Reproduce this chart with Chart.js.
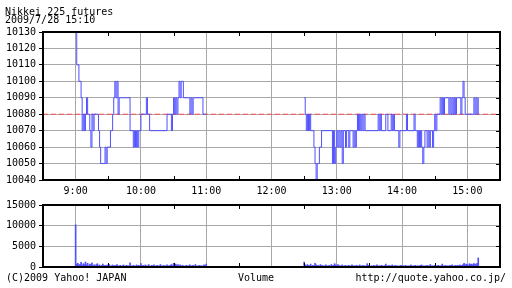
<!DOCTYPE html>
<html>
<head>
<meta charset="utf-8">
<script src="https://cdn.jsdelivr.net/npm/chart.js@4.4.0/dist/chart.umd.min.js"></script>
<style>
  html, body { margin: 0; padding: 0; background: #fff; }
  #wrap { position: relative; width: 512px; height: 288px; }
  #wrap canvas { position: absolute; left: 0; top: 0; }
</style>
</head>
<body>
<div id="wrap">
  <canvas id="priceChart" width="512" height="288"></canvas>
  <canvas id="volumeChart" width="512" height="288"></canvas>
</div>
<script>
const FONT = "'DejaVu Sans Mono', monospace";
const BLUE = '#5050ff';
const GRID = '#a8a8a8';

// x values are minutes after 9:00
const hourTicks = [0, 60, 120, 180, 240, 300, 360];
const halfHourTicks = [-30, 30, 90, 150, 210, 270, 330, 390];
const priceTicks = [10040, 10050, 10060, 10070, 10080, 10090, 10100, 10110, 10120, 10130];
const volumeTicks = [0, 5000, 10000, 15000];
const prevClose = 10080;

// morning session price changes (minute, price)
const amTimes = [0, 1, 3, 5, 6, 7, 8, 9, 10, 11,
  13, 14, 15, 16, 17, 21, 22, 23, 27, 28,
  29, 32, 34, 35, 36, 37, 38, 39, 40, 50,
  53, 54, 55, 56, 57, 58, 60, 65, 66, 68,
  84, 88, 89, 90, 91, 92, 93, 94, 95, 96,
  97, 99, 105, 106, 107, 108, 117, 120];
const amPrices = [10130, 10110, 10100, 10090, 10070, 10080, 10070, 10080, 10090, 10080,
  10070, 10060, 10080, 10070, 10080, 10070, 10060, 10050, 10060, 10050,
  10060, 10070, 10080, 10090, 10100, 10090, 10100, 10080, 10090, 10070,
  10060, 10070, 10060, 10070, 10060, 10070, 10080, 10090, 10080, 10070,
  10080, 10070, 10080, 10090, 10080, 10090, 10080, 10090, 10100, 10090,
  10100, 10090, 10080, 10090, 10080, 10090, 10080, 10080];

// afternoon session price changes (minute, price)
const pmTimes = [210, 211, 212, 213, 214, 215, 216, 219, 220, 221,
  222, 224, 226, 236, 237, 238, 239, 240, 241, 242,
  243, 244, 245, 246, 248, 249, 251, 252, 255, 256,
  257, 258, 259, 260, 261, 262, 263, 264, 265, 266,
  278, 279, 280, 281, 285, 287, 290, 291, 292, 293,
  297, 298, 304, 305, 311, 312, 314, 315, 316, 317,
  318, 319, 320, 321, 323, 324, 325, 326, 328, 329,
  330, 331, 332, 335, 336, 337, 338, 339, 343, 344,
  345, 346, 347, 348, 349, 350, 354, 355, 356, 357,
  358, 366, 367, 368, 369, 370];
const pmPrices = [10090, 10080, 10070, 10080, 10070, 10080, 10070, 10060, 10050, 10040,
  10050, 10060, 10070, 10050, 10070, 10050, 10060, 10070, 10060, 10070,
  10060, 10070, 10050, 10070, 10060, 10070, 10060, 10070, 10060, 10070,
  10060, 10070, 10080, 10070, 10080, 10070, 10080, 10070, 10080, 10070,
  10080, 10070, 10080, 10070, 10080, 10070, 10080, 10070, 10080, 10070,
  10060, 10070, 10080, 10070, 10080, 10070, 10060, 10070, 10060, 10070,
  10060, 10050, 10060, 10070, 10060, 10070, 10060, 10070, 10060, 10070,
  10080, 10070, 10080, 10090, 10080, 10090, 10080, 10090, 10080, 10090,
  10080, 10090, 10080, 10090, 10080, 10090, 10080, 10090, 10100, 10090,
  10080, 10090, 10080, 10090, 10080, 10090];

// volume per minute, 9:00-11:00 and 12:30-15:10
const amVolume = [10200,
  700, 900, 500, 600, 1100, 400, 800, 600, 1200, 500,
  900, 300, 700, 600, 1000, 400, 500, 300, 600, 800,
  300, 500, 200, 400, 700, 300, 400, 200, 500, 300,
  600, 200, 300, 500, 200, 400, 300, 600, 200, 300,
  400, 200, 300, 500, 200, 300, 400, 200, 300, 1000,
  300, 200, 400, 300, 200, 500, 300, 400, 200, 800,
  300, 400, 200, 500, 300, 200, 600, 300, 200, 400,
  300, 500, 200, 300, 400, 200, 300, 600, 200, 300,
  400, 200, 300, 500, 200, 300, 400, 600, 300, 900,
  500, 700, 400, 600, 300, 500, 200, 400, 300, 200,
  300, 400, 200, 300, 500, 200, 300, 400, 200, 600,
  300, 200, 300, 400, 200, 300, 200, 500, 300, 700];
const pmVolume = [1200,
  500, 300, 600, 400, 300, 700, 200, 400, 300, 900,
  500, 300, 400, 200, 600, 300, 400, 200, 300, 500,
  200, 300, 400, 200, 600, 300, 400, 800, 500, 300,
  600, 400, 200, 300, 500, 200, 300, 400, 200, 300,
  400, 200, 300, 500, 200, 300, 200, 400, 300, 200,
  500, 300, 200, 400, 300, 200, 300, 800, 400, 300,
  200, 300, 200, 400, 200, 300, 500, 200, 300, 200,
  400, 300, 200, 300, 700, 200, 300, 400, 200, 300,
  500, 200, 300, 400, 200, 300, 200, 300, 400, 200,
  300, 200, 400, 300, 200, 300, 200, 500, 300, 200,
  300, 400, 200, 300, 200, 300, 400, 500, 200, 300,
  200, 300, 400, 200, 300, 600, 200, 300, 200, 400,
  300, 200, 400, 300, 200, 300, 700, 200, 300, 400,
  200, 300, 200, 400, 300, 500, 200, 300, 400, 300,
  400, 300, 500, 300, 400, 600, 900, 500, 700, 600,
  400, 800, 600, 700, 500, 800, 700, 600, 900, 2200];
const pmStart = 210;

const pricePoints = amTimes.map((t, i) => ({ x: t, y: amPrices[i] }))
  .concat([{ x: 165, y: null }])
  .concat(pmTimes.map((t, i) => ({ x: t, y: pmPrices[i] })));
const volumePoints = amVolume.map((v, i) => ({ x: i, y: v }))
  .concat(pmVolume.map((v, i) => ({ x: pmStart + i, y: v })));

// frame, inner half-hour ticks and right side ticks
const framePlugin = {
  id: 'frame',
  afterDatasetsDraw(chart) {
    const { ctx, chartArea: a, scales } = chart;
    ctx.save();
    ctx.strokeStyle = '#000';
    ctx.lineWidth = 1;
    ctx.beginPath();
    halfHourTicks.forEach(t => {
      const x = Math.round(scales.x.getPixelForValue(t)) + 0.5;
      ctx.moveTo(x, a.top); ctx.lineTo(x, a.top + 4);
      ctx.moveTo(x, a.bottom); ctx.lineTo(x, a.bottom - 4);
    });
    scales.y.ticks.forEach(tk => {
      const y = Math.round(scales.y.getPixelForValue(tk.value)) + 0.5;
      ctx.moveTo(a.right, y); ctx.lineTo(a.right - 4, y);
    });
    ctx.stroke();
    ctx.lineWidth = 2;
    ctx.strokeRect(a.left, a.top, a.right - a.left, a.bottom - a.top);
    ctx.restore();
  }
};

const textPlugin = {
  id: 'texts',
  afterDraw(chart, args, opts) {
    const ctx = chart.ctx;
    ctx.save();
    ctx.font = '10px ' + FONT;
    ctx.fillStyle = '#000';
    ctx.textBaseline = 'alphabetic';
    (opts.items || []).forEach(it => {
      ctx.textAlign = it.align || 'left';
      ctx.fillText(it.text, it.x, it.y);
    });
    ctx.restore();
  }
};

const tickFont = { family: FONT, size: 10 };

new Chart(document.getElementById('priceChart'), {
  type: 'line',
  data: {
    datasets: [
      {
        data: pricePoints,
        borderColor: BLUE,
        borderWidth: 1,
        stepped: true,
        pointRadius: 0,
        fill: false,
        order: 1,
        clip: 2
      },
      {
        data: [{ x: -30, y: prevClose }, { x: 390, y: prevClose }],
        borderColor: '#ff5050',
        borderWidth: 1,
        borderDash: [5, 3],
        pointRadius: 0,
        fill: false,
        order: 2
      }
    ]
  },
  options: {
    responsive: false,
    animation: false,
    events: [],
    layout: { padding: { top: 32, right: 12, bottom: 88, left: 0 } },
    plugins: {
      legend: { display: false },
      tooltip: { enabled: false },
      texts: {
        items: [
          { text: 'Nikkei 225 futures', x: 5, y: 15 },
          { text: '2009/7/28 15:10', x: 5, y: 23 }
        ]
      }
    },
    scales: {
      x: {
        type: 'linear',
        min: -30,
        max: 390,
        afterBuildTicks: s => { s.ticks = hourTicks.map(v => ({ value: v })); },
        afterFit: s => { s.height = 20; },
        grid: { color: GRID, drawTicks: false },
        border: { display: false },
        ticks: {
          padding: 5,
          color: '#000',
          font: tickFont,
          maxRotation: 0,
          autoSkip: false,
          callback: v => (9 + v / 60) + ':00'
        }
      },
      y: {
        min: 10040,
        max: 10130,
        afterBuildTicks: s => { s.ticks = priceTicks.map(v => ({ value: v })); },
        afterFit: s => { s.width = 43; },
        grid: { color: GRID, tickColor: '#000', tickLength: 4 },
        border: { display: false },
        ticks: { padding: 3, color: '#000', font: tickFont, callback: v => String(v) }
      }
    }
  },
  plugins: [framePlugin, textPlugin]
});

new Chart(document.getElementById('volumeChart'), {
  type: 'bar',
  data: {
    datasets: [{
      data: volumePoints,
      backgroundColor: BLUE,
      borderWidth: 0,
      barThickness: 1
    }]
  },
  options: {
    responsive: false,
    animation: false,
    events: [],
    layout: { padding: { top: 205, right: 12, bottom: 21, left: 0 } },
    plugins: {
      legend: { display: false },
      tooltip: { enabled: false },
      texts: {
        items: [
          { text: '(C)2009 Yahoo! JAPAN', x: 6, y: 281 },
          { text: 'Volume', x: 256, y: 281, align: 'center' },
          { text: 'http://quote.yahoo.co.jp/', x: 506, y: 281, align: 'right' }
        ]
      }
    },
    scales: {
      x: {
        type: 'linear',
        min: -30,
        max: 390,
        offset: false,
        afterBuildTicks: s => { s.ticks = hourTicks.map(v => ({ value: v })); },
        afterFit: s => { s.height = 0; },
        grid: { color: GRID, drawTicks: false, offset: false },
        border: { display: false },
        ticks: { display: false }
      },
      y: {
        min: 0,
        max: 15000,
        afterBuildTicks: s => { s.ticks = volumeTicks.map(v => ({ value: v })); },
        afterFit: s => { s.width = 43; },
        grid: { color: GRID, tickColor: '#000', tickLength: 4 },
        border: { display: false },
        ticks: { padding: 3, color: '#000', font: tickFont, callback: v => String(v) }
      }
    }
  },
  plugins: [framePlugin, textPlugin]
});
</script>
</body>
</html>
